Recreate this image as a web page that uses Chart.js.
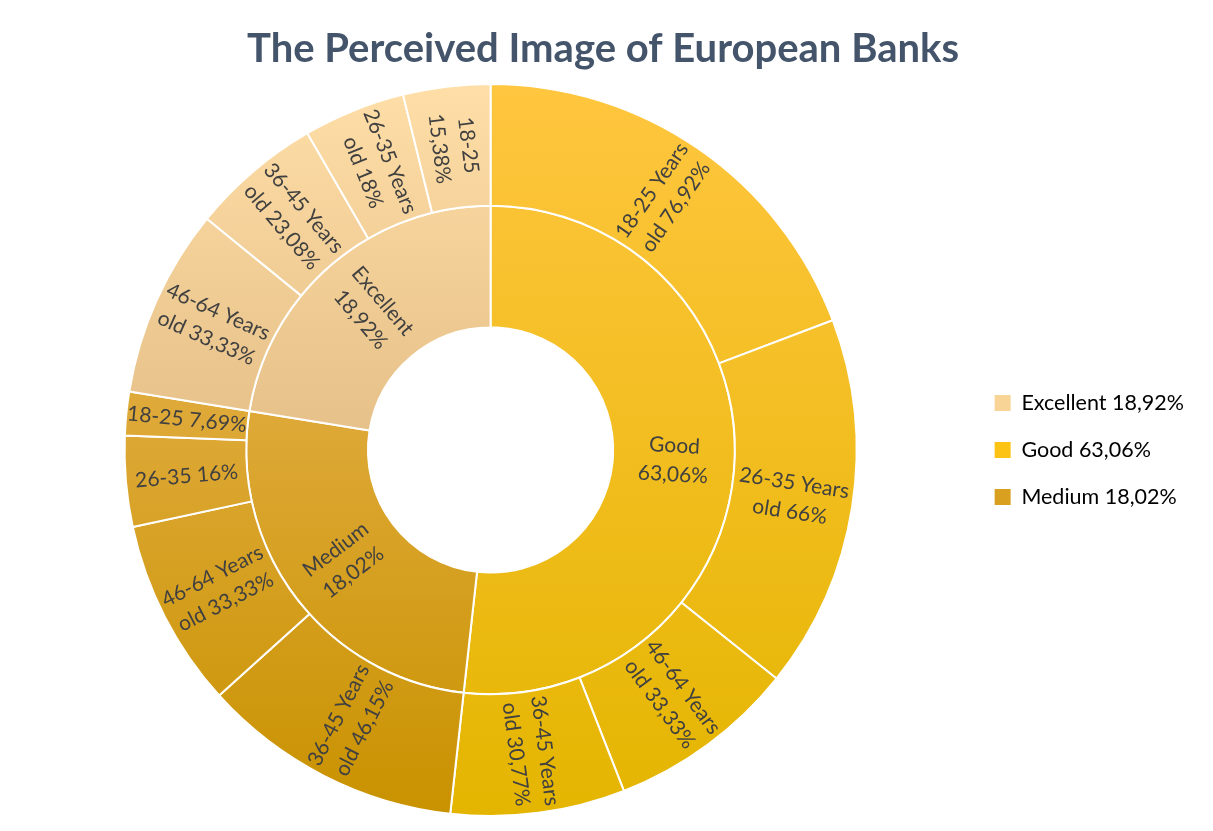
<!DOCTYPE html>
<html>
<head>
<meta charset="utf-8">
<title>The Perceived Image of European Banks</title>
<script src="https://cdn.jsdelivr.net/npm/chart.js@4.4.1/dist/chart.umd.min.js"></script>
<style>
  html, body { margin: 0; padding: 0; background: #fff; }
  #wrap { width: 1213px; height: 831px; }
</style>
</head>
<body>
<div id="wrap"><canvas id="sunburst" width="1213" height="831"></canvas></div>
<script>
// --- data ---
const groups = ['Excellent', 'Good', 'Medium'];
const groupShares = [18.92, 63.06, 18.02];
const ageBands = ['18-25', '26-35', '36-45', '46-64'];
const excellentValues = [15.38, 18, 23.08, 33.33];
const goodValues = [76.92, 66, 30.77, 33.33];
const mediumValues = [7.69, 16, 46.15, 33.33];
const bandValues = [excellentValues, goodValues, mediumValues];

// top / bottom colour of each group's vertical gradient, plus a flat legend swatch
const groupGradients = [['#FFDEA7', '#E6C189'], ['#FFC63F', '#E4B500'], ['#DFAA3A', '#C99200']];
const legendSwatches = ['#F8D597', '#FCC214', '#D8A01E'];

// narrow slices get shorter labels
const compactLabels = { 'Excellent|18-25': 'stacked', 'Medium|18-25': 'single', 'Medium|26-35': 'single' };

const pct = v => String(v).replace('.', ',') + '%';
const sum = arr => arr.reduce((a, b) => a + b, 0);

function sliceText(g, band, v) {
  const style = compactLabels[groups[g] + '|' + band];
  if (style === 'single') return [band + ' ' + pct(v)];
  if (style === 'stacked') return [band, pct(v)];
  return [band + ' Years', 'old ' + pct(v)];
}

// --- sunburst layout: groups and bands sorted largest first ---
const groupOrder = groups.map((_, i) => i).sort((a, b) => sum(bandValues[b]) - sum(bandValues[a]));

const innerData = [], innerGroup = [], innerText = [];
const outerData = [], outerGroup = [], outerText = [];
groupOrder.forEach(g => {
  innerData.push(sum(bandValues[g]));
  innerGroup.push(g);
  innerText.push([groups[g], pct(groupShares[g])]);
  ageBands.map((_, b) => b)
    .sort((a, b) => bandValues[g][b] - bandValues[g][a])
    .forEach(b => {
      outerData.push(bandValues[g][b]);
      outerGroup.push(g);
      outerText.push(sliceText(g, ageBands[b], bandValues[g][b]));
    });
});

const CUTOUT = 0.335;
const gradientCache = {};

// vertical extent of a ring sector (angles in canvas radians, 0 = 3 o'clock)
function yExtent(a0, a1, r0, r1, cy) {
  const ys = [];
  [a0, a1].forEach(a => [r0, r1].forEach(r => ys.push(cy + Math.sin(a) * r)));
  [-1, 1, 3].forEach(k => {
    const a = k * Math.PI / 2;
    if (a >= a0 - 1e-9 && a <= a1 + 1e-9) ys.push(cy + Math.sin(a) * r1);
  });
  return [Math.min(...ys), Math.max(...ys)];
}

function groupFill(chart, g) {
  const area = chart.chartArea;
  if (!area) return groupGradients[g][0];
  const key = g + ':' + area.top + ':' + area.bottom + ':' + area.left + ':' + area.right;
  if (gradientCache[key]) return gradientCache[key];
  const total = sum(innerData);
  const pos = groupOrder.indexOf(g);
  const before = sum(innerData.slice(0, pos));
  const a0 = -Math.PI / 2 + 2 * Math.PI * before / total;
  const a1 = a0 + 2 * Math.PI * innerData[pos] / total;
  const R = Math.min(area.right - area.left, area.bottom - area.top) / 2;
  const cy = (area.top + area.bottom) / 2;
  const [y0, y1] = yExtent(a0, a1, R * CUTOUT, R, cy);
  const grad = chart.ctx.createLinearGradient(0, y0, 0, y1);
  grad.addColorStop(0, groupGradients[g][0]);
  grad.addColorStop(1, groupGradients[g][1]);
  gradientCache[key] = grad;
  return grad;
}

// radial labels inside each slice
const sliceLabels = {
  id: 'sliceLabels',
  afterDatasetsDraw(chart) {
    const ctx = chart.ctx;
    ctx.save();
    ctx.font = '21px Lato';
    ctx.fillStyle = '#404040';
    ctx.textAlign = 'center';
    ctx.textBaseline = 'middle';
    chart.data.datasets.forEach((ds, di) => {
      chart.getDatasetMeta(di).data.forEach((arc, i) => {
        const p = arc.getProps(['x', 'y', 'startAngle', 'endAngle', 'innerRadius', 'outerRadius'], true);
        const mid = (p.startAngle + p.endAngle) / 2;
        const r = (p.innerRadius + p.outerRadius) / 2;
        let rot = mid;
        if (Math.cos(mid) < 0) rot += Math.PI;
        const lines = ds.sliceText[i];
        const lh = 29;
        ctx.save();
        ctx.translate(p.x + Math.cos(mid) * r, p.y + Math.sin(mid) * r);
        ctx.rotate(rot);
        lines.forEach((t, li) => ctx.fillText(t, 0, (li - (lines.length - 1) / 2) * lh));
        ctx.restore();
      });
    });
    ctx.restore();
  }
};

Chart.defaults.font.family = 'Lato';

new Chart(document.getElementById('sunburst'), {
  type: 'doughnut',
  data: {
    labels: outerText.map(l => l.join(' ')),
    datasets: [
      {
        data: outerData,
        sliceText: outerText,
        backgroundColor: c => groupFill(c.chart, outerGroup[c.dataIndex]),
        borderColor: '#ffffff',
        borderWidth: 2
      },
      {
        data: innerData,
        sliceText: innerText,
        backgroundColor: c => groupFill(c.chart, innerGroup[c.dataIndex]),
        borderColor: '#ffffff',
        borderWidth: 2
      }
    ]
  },
  options: {
    responsive: false,
    devicePixelRatio: 1,
    animation: false,
    events: [],
    cutout: (CUTOUT * 100) + '%',
    layout: { padding: { left: 12, right: 19, top: 0, bottom: 14 } },
    plugins: {
      title: {
        display: true,
        text: 'The Perceived Image of European Banks',
        color: '#44546A',
        font: { size: 40, weight: 'bold' },
        padding: { top: 25, bottom: 10 }
      },
      legend: {
        position: 'right',
        fullSize: false,
        labels: {
          boxWidth: 16,
          boxHeight: 16,
          padding: 25.5,
          color: '#525C6B',
          font: { size: 21.5 },
          generateLabels: () => groups.map((g, i) => ({
            text: g + ' ' + pct(groupShares[i]),
            fillStyle: legendSwatches[i],
            strokeStyle: legendSwatches[i],
            lineWidth: 0,
            hidden: false,
            index: i
          }))
        }
      },
      tooltip: { enabled: false }
    }
  },
  plugins: [sliceLabels]
});
</script>
</body>
</html>
